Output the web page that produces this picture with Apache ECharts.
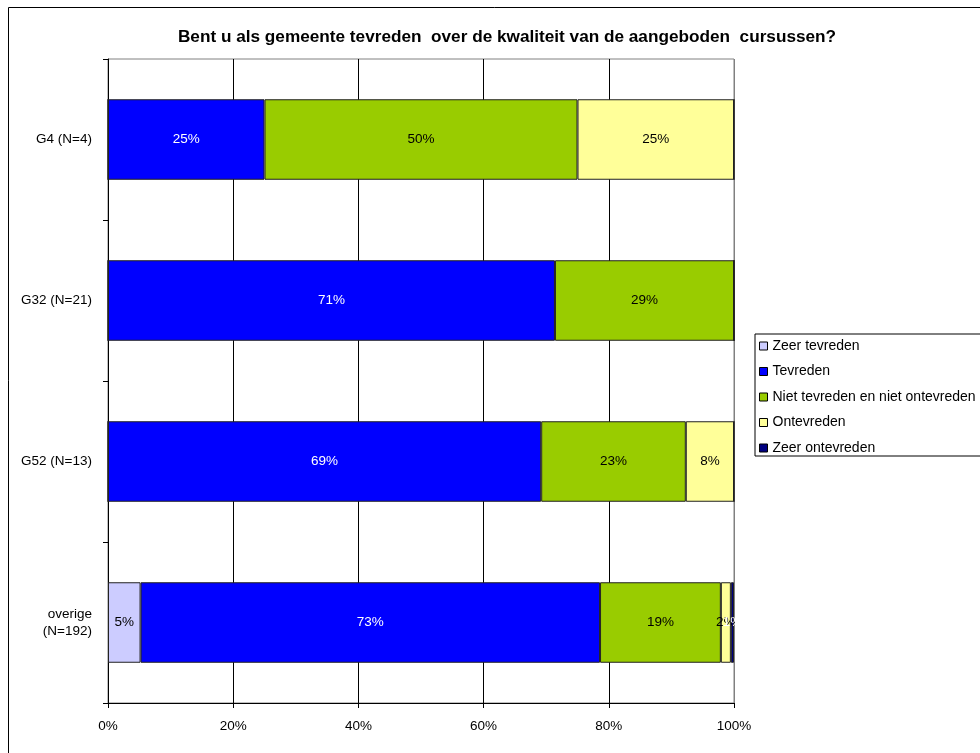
<!DOCTYPE html>
<html>
<head>
<meta charset="utf-8">
<script src="https://cdn.jsdelivr.net/npm/echarts@6/dist/echarts.min.js"></script>
<style>
html,body{margin:0;padding:0;background:#fff;}
#chart{width:980px;height:753px;}
</style>
</head>
<body>
<div id="chart"></div>
<script>
const titleText = 'Bent u als gemeente tevreden  over de kwaliteit van de aangeboden  cursussen?';
const categories = ['G4 (N=4)', 'G32 (N=21)', 'G52 (N=13)', 'overige\n(N=192)'];
const seriesNames = ['Zeer tevreden', 'Tevreden', 'Niet tevreden en niet ontevreden', 'Ontevreden', 'Zeer ontevreden'];
const zeerTevreden = [0, 0, 0, 5.2];
const tevreden = [25, 71.4, 69.2, 73.4];
const neutraal = [50, 28.6, 23.1, 19.3];
const ontevreden = [25, 0, 7.7, 1.6];
const zeerOntevreden = [0, 0, 0, 0.5];
const xTicks = [0, 20, 40, 60, 80, 100];

const colors = ['#CCCCFF', '#0000FF', '#99CC00', '#FFFF99', '#000080'];
const labelColors = ['#000', '#fff', '#000', '#000', '#fff'];
const allData = [zeerTevreden, tevreden, neutraal, ontevreden, zeerOntevreden];

const font = 'Liberation Sans, Arial, sans-serif';

const chart = echarts.init(document.getElementById('chart'), null, {renderer: 'canvas'});

const series = seriesNames.map((name, i) => ({
  name: name,
  type: 'bar',
  stack: 'total',
  barWidth: '50%',
  data: allData[i],
  itemStyle: {color: colors[i], borderColor: '#222', borderWidth: 1},
  label: {
    show: true,
    position: 'inside',
    color: labelColors[i],
    fontFamily: font,
    fontSize: 13.5,
    formatter: p => p.value > 0 ? Math.round(p.value) + '%' : ''
  },
  emphasis: {disabled: true}
}));

chart.setOption({
  animation: false,
  backgroundColor: '#fff',
  textStyle: {fontFamily: font},
  title: {
    text: titleText,
    left: 502,
    textAlign: 'center',
    top: 24,
    textStyle: {fontFamily: font, fontSize: 17.2, fontWeight: 'bold', color: '#000'}
  },
  graphic: [{
    type: 'rect',
    shape: {x: 8.5, y: 7.5, width: 1200, height: 1200},
    style: {fill: null, stroke: '#000', lineWidth: 1},
    silent: true,
    z: -10
  }],
  legend: {
    orient: 'vertical',
    left: 755,
    top: 334,
    padding: [4, 6, 0, 4],
    itemGap: 9.5,
    itemWidth: 8,
    itemHeight: 8,
    icon: 'rect',
    borderColor: '#000',
    borderWidth: 1,
    backgroundColor: '#fff',
    itemStyle: {borderColor: '#000', borderWidth: 1},
    textStyle: {fontFamily: font, fontSize: 14, color: '#000', lineHeight: 16},
    data: seriesNames
  },
  grid: {
    left: 108,
    right: 246,
    top: 59,
    bottom: 50,
    show: true,
    borderColor: '#808080',
    borderWidth: 1,
    containLabel: false
  },
  xAxis: {
    type: 'value',
    min: 0,
    max: 100,
    interval: 20,
    axisLine: {show: true, lineStyle: {color: '#000', width: 1}},
    axisTick: {show: true, length: 5, lineStyle: {color: '#000'}},
    axisLabel: {
      color: '#000',
      fontSize: 13.5,
      fontFamily: font,
      margin: 16,
      formatter: v => xTicks.includes(v) ? v + '%' : ''
    },
    splitLine: {show: true, lineStyle: {color: ['#000', '#000', '#000', '#000', '#000', '#808080'], width: 1}}
  },
  yAxis: {
    type: 'category',
    inverse: true,
    data: categories,
    axisLine: {show: true, lineStyle: {color: '#000', width: 1}},
    axisTick: {show: true, length: 5, alignWithLabel: false, lineStyle: {color: '#000'}},
    axisLabel: {
      color: '#000',
      fontSize: 13.5,
      fontFamily: font,
      margin: 16,
      align: 'right',
      lineHeight: 17
    },
    splitLine: {show: false}
  },
  series: series
});
</script>
</body>
</html>
